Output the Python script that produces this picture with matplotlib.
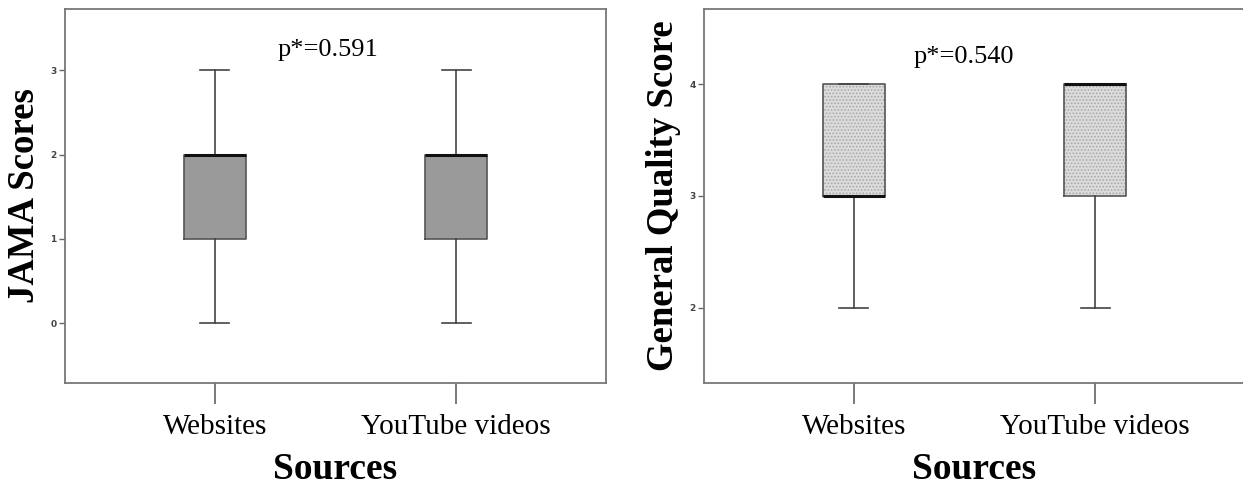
import matplotlib
matplotlib.use("Agg")
import matplotlib.pyplot as plt

# data
sources = ["Websites", "YouTube videos"]

jama_lo = [0, 0]
jama_q1 = [1, 1]
jama_med = [2, 2]
jama_q3 = [2, 2]
jama_hi = [3, 3]
jama_p = "p*=0.591"

gqs_lo = [2, 2]
gqs_q1 = [3, 3]
gqs_med = [3, 4]
gqs_q3 = [4, 4]
gqs_hi = [4, 4]
gqs_p = "p*=0.540"

plt.rcParams["font.family"] = ["Liberation Serif", "DejaVu Serif"]
plt.rcParams["hatch.linewidth"] = 0.8


def make_stats(lo, q1, med, q3, hi):
    stats = []
    for i in range(len(lo)):
        stats.append({"whislo": lo[i], "q1": q1[i], "med": med[i],
                      "q3": q3[i], "whishi": hi[i], "fliers": []})
    return stats


def draw_panel(ax, stats, face, hatch, ylim, yticks, ylabel, ptext, px, py):
    pos = [1, 2]
    # fill first (hatch takes the edge colour, so outline drawn separately)
    ax.bxp(stats, positions=pos, widths=0.255, patch_artist=True,
           showcaps=False, manage_ticks=False,
           boxprops=dict(facecolor=face, edgecolor="#a8a8a8" if hatch else face,
                         hatch=hatch, linewidth=0),
           whiskerprops=dict(linewidth=0), medianprops=dict(linewidth=0))
    ax.bxp(stats, positions=pos, widths=0.255, manage_ticks=False,
           boxprops=dict(color="#555555", linewidth=1.2),
           whiskerprops=dict(color="#444444", linewidth=1.2),
           capprops=dict(color="#444444", linewidth=1.2),
           capwidths=0.12,
           medianprops=dict(color="#111111", linewidth=2.2))
    ax.set_xlim(0.38, 2.62)
    ax.set_ylim(*ylim)
    ax.set_yticks(yticks)
    ax.set_xticks(pos)
    ax.set_xticklabels(sources, fontsize=21)
    for lab in ax.get_yticklabels():
        lab.set_family("DejaVu Sans")
        lab.set_fontsize(6.5)
        lab.set_fontweight("bold")
        lab.set_color("#444444")
    ax.tick_params(axis="y", length=4, width=1, color="#666666", pad=2)
    ax.tick_params(axis="x", length=15, width=1.1, color="#555555", pad=7)
    for sp in ax.spines.values():
        sp.set_color("#777777")
        sp.set_linewidth(1.3)
    ax.set_ylabel(ylabel, fontsize=26.5, fontweight="bold", labelpad=6)
    ax.set_xlabel("Sources", fontsize=27, fontweight="bold", labelpad=9)
    ax.text(px, py, ptext, fontsize=19, ha="center", va="center")


fig = plt.figure(figsize=(12.43, 4.88), dpi=100)
ax1 = fig.add_axes([0.0523, 0.2152, 0.4352, 0.7664])
ax2 = fig.add_axes([0.5664, 0.2152, 0.4352, 0.7664])

draw_panel(ax1, make_stats(jama_lo, jama_q1, jama_med, jama_q3, jama_hi),
           "#9a9a9a", None, (-0.71, 3.73), [0, 1, 2, 3],
           "JAMA Scores", jama_p, 1.47, 3.24)
draw_panel(ax2, make_stats(gqs_lo, gqs_q1, gqs_med, gqs_q3, gqs_hi),
           "#dcdcdc", ".....", (1.33, 4.67), [2, 3, 4],
           "General Quality Score", gqs_p, 1.455, 4.24)

fig.savefig("out.png", dpi=100)
